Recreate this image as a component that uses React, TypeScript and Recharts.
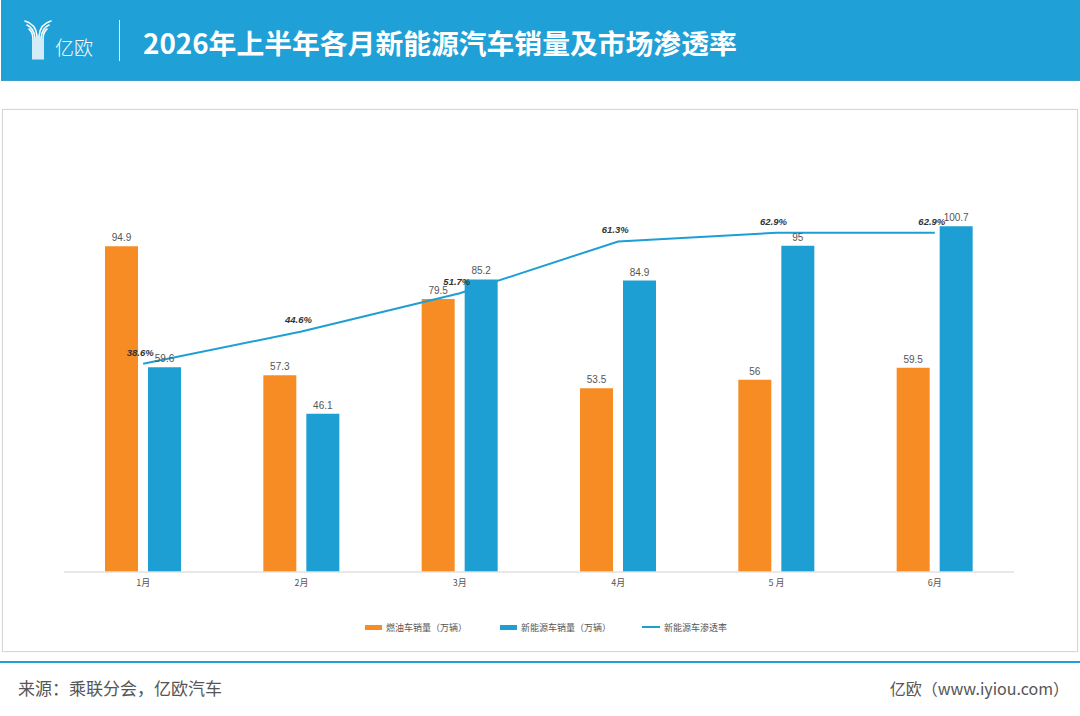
import React from "react";
import { ComposedChart, Bar, Line, XAxis, YAxis, LabelList } from "recharts";

const months = ["1月", "2月", "3月", "4月", "5 月", "6月"];
const fuelSales = [94.9, 57.3, 79.5, 53.5, 56, 59.5];
const nevSales = [59.6, 46.1, 85.2, 84.9, 95, 100.7];
const nevRate = [38.6, 44.6, 51.7, 61.3, 62.9, 62.9];

const data = months.map((m, i) => ({
  month: m,
  fuel: fuelSales[i],
  nev: nevSales[i],
  rate: nevRate[i],
}));

const ORANGE = "#f68c23";
const BLUE = "#1e9fd4";
const HEADER = "#1fa0d6";
const NUM_FONT = "'Liberation Sans', Arial, sans-serif";
const CJK = "'Noto Sans CJK SC', sans-serif";

const RateLabel = (props: any) => {
  const { x, y, value } = props;
  return (
    <text
      x={x - 3}
      y={y - 8}
      textAnchor="middle"
      fontFamily={NUM_FONT}
      fontSize={9.5}
      fontWeight={700}
      fontStyle="italic"
      fill="#333"
    >
      {value}%
    </text>
  );
};

const Logo = () => (
  <svg width={110} height={80} style={{ position: "absolute", left: 0, top: 0 }}>
    <g stroke="#fff" strokeWidth={1.6} fill="none" strokeLinecap="round">
      <path d="M25 21 Q36 24 37 36 L37 59" />
      <path d="M27 25 Q34 28 35 38 L35 59" />
      <path d="M29 29 Q33 32 33 40 L33 59" />
      <path d="M51 21 Q40 24 39 36 L39 59" />
      <path d="M49 25 Q42 28 41 38 L41 59" />
      <path d="M47 29 Q43 32 43 40 L43 59" />
    </g>
    <text x={55} y={55} fill="#fff" fontFamily={CJK} fontSize={19} fontWeight={300}>
      亿欧
    </text>
  </svg>
);

const LegendItem = ({ left, swatch, label }: { left: number; swatch: React.ReactNode; label: string }) => (
  <div style={{ position: "absolute", left, top: 620, height: 14, display: "flex", alignItems: "center" }}>
    {swatch}
    <span style={{ fontFamily: CJK, fontSize: 9, color: "#555", marginLeft: 4, whiteSpace: "nowrap" }}>{label}</span>
  </div>
);

export default function App() {
  return (
    <div style={{ position: "relative", width: 1080, height: 716, background: "#fff", overflow: "hidden" }}>
      <style>{"body{margin:0;}"}</style>
      {/* header */}
      <div
        style={{
          position: "absolute",
          left: 1,
          top: 0,
          width: 1079,
          height: 80,
          background: HEADER,
          borderBottom: "1px solid #3b9fcc",
        }}
      />
      <Logo />
      <div style={{ position: "absolute", left: 119, top: 20, width: 1, height: 41, background: "#e8f5fb" }} />
      <div
        style={{
          position: "absolute",
          left: 143,
          top: 22,
          fontFamily: CJK,
          fontWeight: 700,
          fontSize: 27.8,
          lineHeight: "40px",
          color: "#fff",
          whiteSpace: "nowrap",
        }}
      >
        2026年上半年各月新能源汽车销量及市场渗透率
      </div>

      {/* chart box */}
      <div
        style={{
          position: "absolute",
          left: 2,
          top: 109,
          width: 1074,
          height: 541,
          border: "1px solid #d6d6d6",
          boxShadow: "0 0 1px #e6e6e6",
        }}
      />

      <div style={{ position: "absolute", left: 0, top: 0 }}>
        <ComposedChart
          width={1080}
          height={716}
          data={data}
          margin={{ top: 160, right: 66, bottom: 114, left: 64 }}
          barGap={10}
        >
          <XAxis
            dataKey="month"
            height={30}
            tickLine={false}
            axisLine={{ stroke: "#e2e2e2", strokeWidth: 1.5 }}
            tick={{ fontSize: 9, fill: "#555", fontFamily: CJK }}
            interval={0}
          />
          <YAxis yAxisId="left" hide domain={[0, 120]} />
          <YAxis yAxisId="right" orientation="right" hide domain={[0, 76.4]} />
          <Bar yAxisId="left" dataKey="fuel" fill={ORANGE} barSize={33} isAnimationActive={false}>
            <LabelList
              dataKey="fuel"
              position="top"
              offset={5}
              style={{ fontSize: 10, fill: "#555", fontFamily: NUM_FONT }}
            />
          </Bar>
          <Bar yAxisId="left" dataKey="nev" fill={BLUE} barSize={33} isAnimationActive={false}>
            <LabelList
              dataKey="nev"
              position="top"
              offset={5}
              style={{ fontSize: 10, fill: "#555", fontFamily: NUM_FONT }}
            />
          </Bar>
          <Line
            yAxisId="right"
            type="linear"
            dataKey="rate"
            stroke={BLUE}
            strokeWidth={2}
            dot={false}
            activeDot={false}
            isAnimationActive={false}
          >
            <LabelList dataKey="rate" content={RateLabel} />
          </Line>
        </ComposedChart>
      </div>

      {/* legend */}
      <LegendItem
        left={365}
        swatch={<div style={{ width: 17, height: 5, background: ORANGE }} />}
        label="燃油车销量（万辆）"
      />
      <LegendItem
        left={500}
        swatch={<div style={{ width: 17, height: 5, background: BLUE }} />}
        label="新能源车销量（万辆）"
      />
      <LegendItem
        left={642}
        swatch={<div style={{ width: 18, height: 2, background: BLUE }} />}
        label="新能源车渗透率"
      />

      {/* footer */}
      <div style={{ position: "absolute", left: 0, top: 661, width: 1080, height: 2, background: HEADER }} />
      <div
        style={{
          position: "absolute",
          left: 18,
          top: 676,
          fontFamily: CJK,
          fontSize: 17,
          lineHeight: "24px",
          color: "#555",
          whiteSpace: "nowrap",
        }}
      >
        来源：乘联分会，亿欧汽车
      </div>
      <div
        style={{
          position: "absolute",
          right: 11,
          top: 676,
          fontFamily: CJK,
          fontSize: 16,
          lineHeight: "24px",
          color: "#555",
          whiteSpace: "nowrap",
        }}
      >
        亿欧（www.iyiou.com）
      </div>
    </div>
  );
}
